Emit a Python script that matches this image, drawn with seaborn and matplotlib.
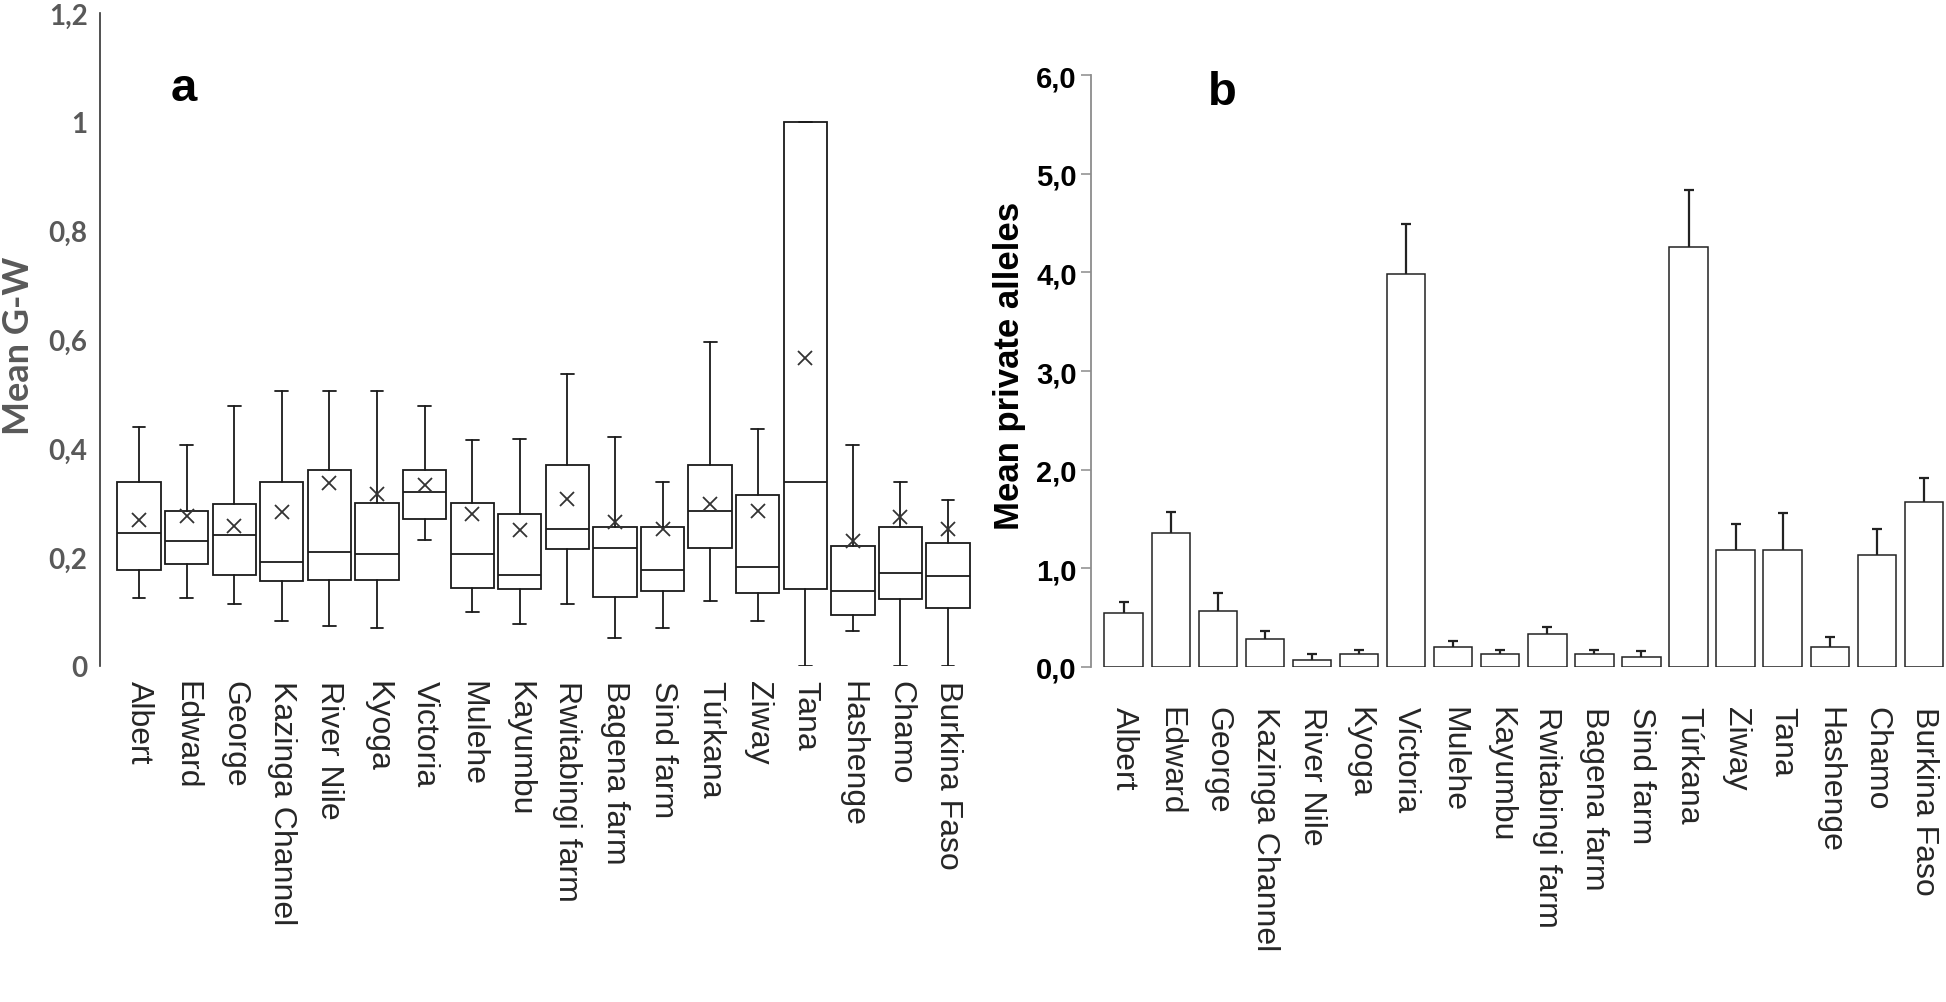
import numpy as np
import matplotlib
matplotlib.use("Agg")
import matplotlib.pyplot as plt
import seaborn as sns

sites = ["Albert", "Edward", "George", "Kazinga Channel", "River Nile", "Kyoga",
         "Victoria", "Mulehe", "Kayumbu", "Rwitabingi farm", "Bagena farm",
         "Sind farm", "Túrkana", "Ziway", "Tana", "Hashenge", "Chamo",
         "Burkina Faso"]

# panel a - G-W box summaries
gw_low = [0.125, 0.125, 0.114, 0.082, 0.074, 0.070, 0.232, 0.099, 0.078,
          0.114, 0.052, 0.070, 0.120, 0.082, 0.0, 0.064, 0.0, 0.0]
gw_q1 = [0.176, 0.188, 0.167, 0.156, 0.158, 0.158, 0.270, 0.143, 0.141,
         0.215, 0.126, 0.138, 0.217, 0.134, 0.141, 0.093, 0.123, 0.106]
gw_med = [0.244, 0.229, 0.241, 0.191, 0.209, 0.206, 0.320, 0.206, 0.167,
          0.252, 0.217, 0.176, 0.285, 0.182, 0.339, 0.138, 0.170, 0.165]
gw_q3 = [0.339, 0.284, 0.297, 0.339, 0.361, 0.299, 0.361, 0.299, 0.279,
         0.370, 0.255, 0.255, 0.370, 0.315, 1.0, 0.220, 0.256, 0.226]
gw_high = [0.439, 0.407, 0.477, 0.506, 0.506, 0.506, 0.477, 0.416, 0.418,
           0.536, 0.420, 0.339, 0.595, 0.436, 1.0, 0.407, 0.338, 0.305]
gw_mean = [0.268, 0.276, 0.258, 0.283, 0.336, 0.316, 0.332, 0.279, 0.250,
           0.306, 0.265, 0.252, 0.297, 0.285, 0.566, 0.230, 0.273, 0.252]
gw_ticks = [0, 0.2, 0.4, 0.6, 0.8, 1.0, 1.2]
gw_ticklabels = ["0", "0,2", "0,4", "0,6", "0,8", "1", "1,2"]

# panel b - mean private alleles with upper error bar
pa_mean = [0.55, 1.36, 0.57, 0.28, 0.07, 0.13, 3.98, 0.20, 0.13, 0.33, 0.13,
           0.10, 4.26, 1.19, 1.19, 0.20, 1.14, 1.67]
pa_err = [0.11, 0.21, 0.18, 0.08, 0.06, 0.045, 0.51, 0.065, 0.047, 0.08,
          0.047, 0.064, 0.58, 0.255, 0.37, 0.10, 0.26, 0.245]
pa_ticks = [0, 1, 2, 3, 4, 5, 6]
pa_ticklabels = ["0,0", "1,0", "2,0", "3,0", "4,0", "5,0", "6,0"]

sns.set_theme(style="white")
plt.rcParams["font.family"] = ["Liberation Sans", "DejaVu Sans"]

fig = plt.figure(figsize=(19.46, 10.03), dpi=100)
ax1 = fig.add_axes([0.0514, 0.335, 0.448, 0.651])
ax2 = fig.add_axes([0.5605, 0.334, 0.44, 0.590])

# ---- panel a
stats = []
for i, s in enumerate(sites):
    stats.append(dict(label=s, whislo=gw_low[i], q1=gw_q1[i], med=gw_med[i],
                      q3=gw_q3[i], whishi=gw_high[i], mean=gw_mean[i],
                      fliers=[]))

line_c = "#1a1a1a"
ax1.bxp(stats, positions=range(len(sites)), widths=0.91, capwidths=0.27,
        showmeans=True, patch_artist=True,
        boxprops=dict(facecolor="white", edgecolor=line_c, linewidth=1.3),
        medianprops=dict(color=line_c, linewidth=1.3),
        whiskerprops=dict(color=line_c, linewidth=1.3),
        capprops=dict(color=line_c, linewidth=1.3),
        meanprops=dict(marker="x", markersize=10, markeredgecolor="#333333",
                       markeredgewidth=1.3))

ax1.set_xlim(-0.82, 17.5)
ax1.set_ylim(0, 1.2)
ax1.set_yticks(gw_ticks)
ax1.set_yticklabels(gw_ticklabels, family=["Lato", "DejaVu Sans"],
                    fontweight="bold", color="#595959", fontsize=20)
ax1.tick_params(axis="y", length=0, pad=9)
ax1.set_xticks(range(len(sites)))
ax1.set_xticklabels(sites, rotation=-90, ha="center", va="top", fontsize=23)
ax1.tick_params(axis="x", length=0, pad=10)
for side in ["top", "right", "bottom"]:
    ax1.spines[side].set_visible(False)
ax1.spines["left"].set_color("#333333")
ax1.spines["left"].set_linewidth(1.2)

fig.text(0.0095, 0.655, "Mean G-W", rotation=90, ha="center", va="center",
         family=["Lato", "DejaVu Sans"], fontweight="bold", color="#595959",
         fontsize=26)
fig.text(0.0946, 0.911, "a", ha="center", va="center", fontsize=34,
         fontweight="bold", color="black")

# ---- panel b
sns.barplot(x=sites, y=pa_mean, ax=ax2, color="white", saturation=1,
            edgecolor="#222222", linewidth=1.1, width=0.816, errorbar=None)
eb = ax2.errorbar(range(len(sites)), pa_mean,
                  yerr=[np.zeros(len(pa_err)), pa_err], fmt="none",
                  ecolor="#222222", elinewidth=1.6, capsize=3.6, capthick=1.6)
eb[1][0].set_visible(False)

ax2.set_xlim(-0.70, 17.49)
ax2.set_ylim(0, 6)
ax2.set_yticks(pa_ticks)
ax2.set_yticklabels(pa_ticklabels,
                    family=["Liberation Sans Narrow", "Liberation Sans"],
                    fontweight="bold", color="black", fontsize=21)
ax2.tick_params(axis="y", direction="out", length=7, width=1.1,
                color="#8c8c8c", pad=3, left=True)
ax2.set_xticks(range(len(sites)))
ax2.set_xticklabels(sites, rotation=-90, ha="center", va="top", fontsize=23)
ax2.tick_params(axis="x", length=0, pad=28)
ax2.set_xlabel("")
for side in ["top", "right", "bottom"]:
    ax2.spines[side].set_visible(False)
ax2.spines["left"].set_color("#8c8c8c")
ax2.spines["left"].set_linewidth(1.3)

fig.text(0.519, 0.635, "Mean private alleles", rotation=90, ha="center",
         va="center", fontweight="bold", color="black", fontsize=25)
fig.text(0.628, 0.907, "b", ha="center", va="center", fontsize=34,
         fontweight="bold", color="black")

fig.savefig("out.png", dpi=100)
